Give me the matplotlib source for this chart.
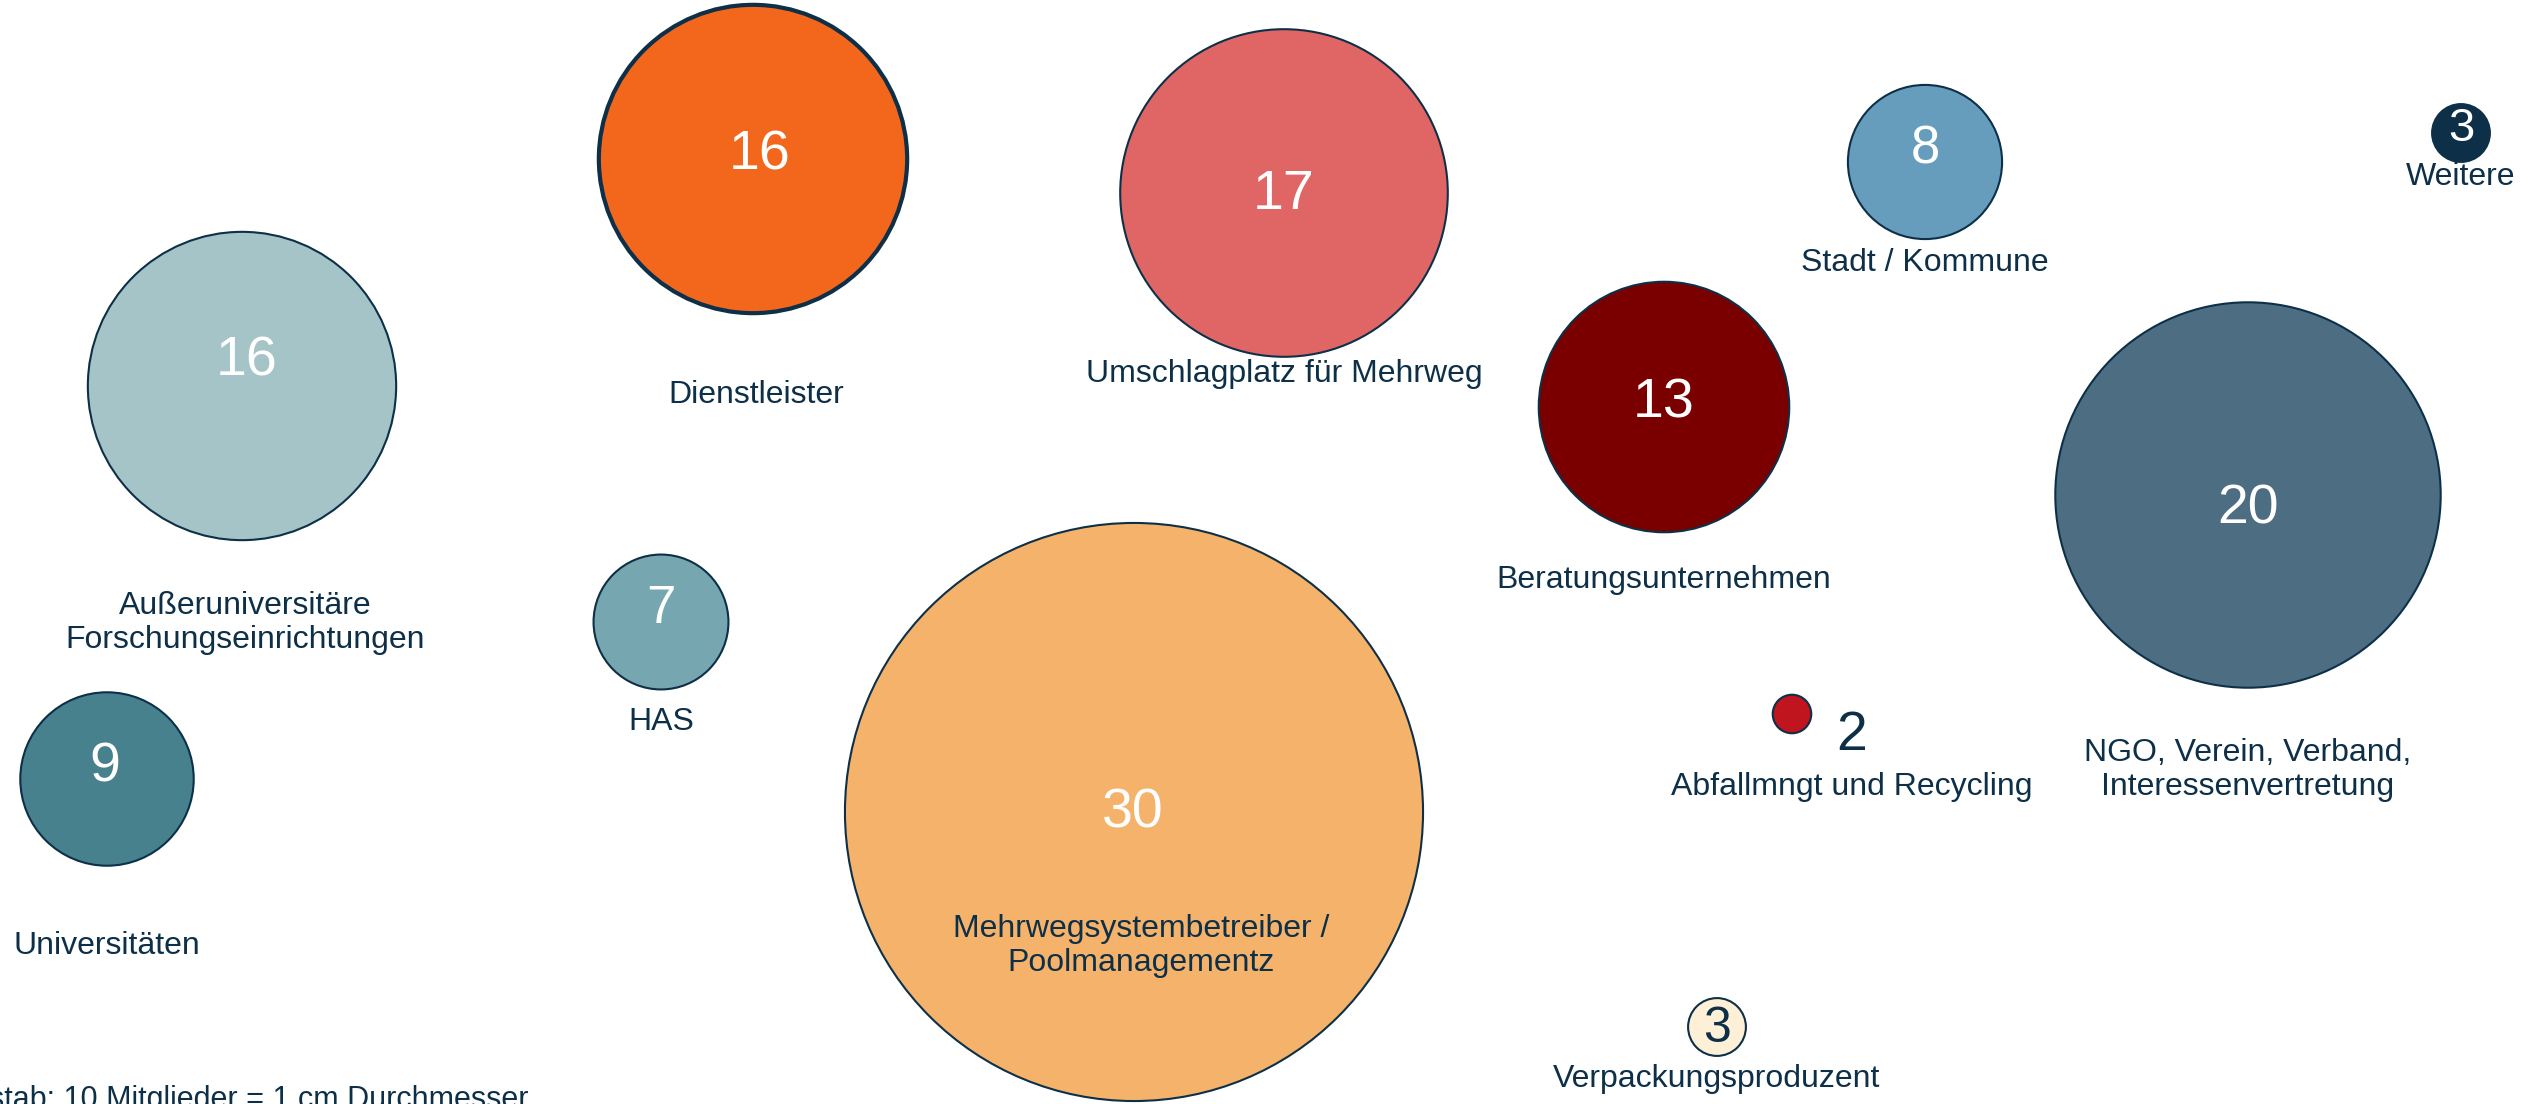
import matplotlib
matplotlib.use("Agg")
import matplotlib.pyplot as plt
from matplotlib.patches import Circle

plt.rcParams['font.family'] = ['Liberation Sans', 'DejaVu Sans']

# ---- data ----
categories = [
    "Außeruniversitäre\nForschungseinrichtungen",
    "Dienstleister",
    "Umschlagplatz für Mehrweg",
    "Stadt / Kommune",
    "Weitere",
    "Beratungsunternehmen",
    "NGO, Verein, Verband,\nInteressenvertretung",
    "HAS",
    "Mehrwegsystembetreiber /\nPoolmanagementz",
    "Universitäten",
    "Abfallmngt und Recycling",
    "Verpackungsproduzent",
]
members = [16, 16, 17, 8, 3, 13, 20, 7, 30, 9, 2, 3]
scale_note = "Maßstab: 10 Mitglieder = 1 cm Durchmesser"

# ---- layout (pixel coordinates, y downward) ----
centers = [(242, 386), (753, 159), (1284, 193), (1925, 162), (2461, 133),
           (1664, 407), (2248, 495), (661, 622), (1134, 812), (107, 779),
           (1792, 714), (1717, 1027)]
num_pos = [(247, 362), (760, 156), (1284, 195), (1925, 150), (2461, 129),
           (1664, 403), (2248, 510), (661, 609), (1133, 814), (105, 768),
           (1852, 736), (1717, 1029)]
label_pos = [(245, 623), (756, 395), (1284, 374), (1925, 263), (2461, 177),
             (1664, 580), (2248, 770), (661, 722), (1141, 946), (107, 946),
             (1852, 787), (1717, 1079)]
fills = ["#a5c4c8", "#f3671d", "#e06666", "#669dbd", "#0d3048", "#7a0000",
         "#4d6e82", "#76a6b0", "#f5b26b", "#46818d", "#c0141f", "#fdf0d7"]
num_colors = ["white"] * 10 + ["#0d3048", "#0d3048"]
edge_w = [1.5, 3.0] + [1.5] * 10
num_size = [40, 40, 40, 38, 34, 40, 40, 38, 40, 40, 40, 36]
px_per_member = 19.27
dark = "#0d3048"

W, H = 2545, 1104
fig = plt.figure(figsize=(W / 100, H / 100), dpi=100)
ax = fig.add_axes([0, 0, 1, 1])
ax.set_xlim(0, W)
ax.set_ylim(H, 0)
ax.set_aspect('equal')
ax.axis('off')

for cat, val, c, npos, lpos, fc, ncol, ew, ns in zip(
        categories, members, centers, num_pos, label_pos, fills,
        num_colors, edge_w, num_size):
    ax.add_patch(Circle(c, radius=val * px_per_member / 2, facecolor=fc,
                        edgecolor=dark, linewidth=ew, zorder=2))
    ax.text(npos[0], npos[1], str(val), color=ncol, fontsize=ns,
            ha='center', va='center', zorder=3)
    ax.text(lpos[0], lpos[1], cat, color=dark, fontsize=23,
            ha='center', va='center', linespacing=1.2, zorder=3)

ax.text(529, 1100, scale_note, color=dark, fontsize=22, ha='right', va='center')

fig.savefig("out.png", dpi=100)
